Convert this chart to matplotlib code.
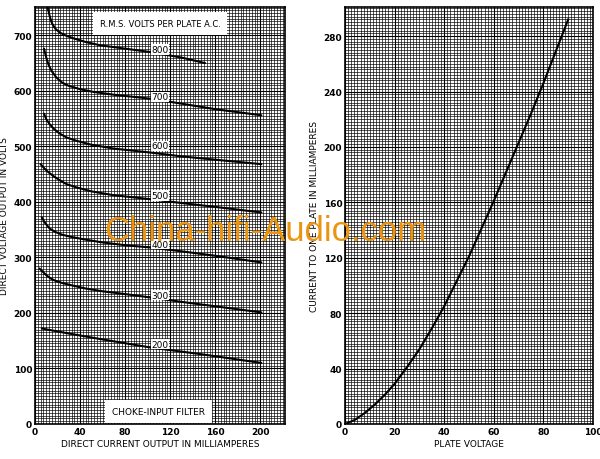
import numpy as np
import matplotlib.pyplot as plt
from matplotlib.ticker import MultipleLocator

# left chart: DC output voltage vs DC current for several RMS plate volts
rms_volts = [800, 700, 600, 500, 400, 300, 200]
curve_ma = [
    [11, 13, 15, 18, 22, 28, 35, 45, 58, 80, 102, 130, 151],
    [8, 10, 12, 15, 19, 24, 30, 40, 52, 70, 102, 130, 160, 201],
    [8, 10, 13, 17, 22, 28, 37, 50, 70, 102, 130, 160, 201],
    [5, 8, 11, 16, 22, 28, 37, 50, 70, 102, 130, 160, 201],
    [6, 9, 13, 18, 24, 32, 45, 60, 80, 102, 130, 160, 201],
    [4, 7, 10, 14, 18, 24, 32, 45, 60, 80, 102, 130, 160, 201],
    [6, 30, 58, 102, 150, 201],
]
curve_volts = [
    [752, 735, 722, 712, 705, 699, 694, 688, 682, 676, 670, 660, 650],
    [676, 660, 647, 635, 624, 615, 609, 603, 598, 593, 586, 577, 567, 556],
    [559, 549, 540, 531, 523, 516, 510, 503, 496, 489, 482, 476, 468],
    [468, 461, 455, 447, 439, 432, 426, 419, 412, 405, 398, 391, 381],
    [372, 362, 352, 346, 341, 337, 332, 327, 322, 318, 311, 303, 291],
    [280, 274, 268, 262, 258, 254, 250, 244, 239, 234, 228, 220, 212, 201],
    [172, 163, 153, 138, 125, 110],
]
label_y = [674, 589, 501, 412, 324, 232, 144]

# right chart: current to one plate vs plate voltage
plate_v = [0, 4, 8, 12, 16, 20, 25, 30, 35, 40, 45, 50, 55, 60, 65, 70, 75, 80, 85, 90]
plate_ma = [0, 3, 8, 14, 21, 29, 41, 54, 69, 85, 103, 121, 141, 161, 182, 203, 224, 246, 269, 292]

fig = plt.figure(figsize=(6, 4.6), dpi=100)
ax1 = fig.add_axes([35/600, 1-425/460, 250/600, 417/460])
ax2 = fig.add_axes([345/600, 1-425/460, 248/600, 417/460])


def graph_paper(ax, xmin, xmaj, ymin, ymaj):
    ax.xaxis.set_minor_locator(MultipleLocator(xmin))
    ax.yaxis.set_minor_locator(MultipleLocator(ymin))
    ax.xaxis.set_major_locator(MultipleLocator(xmaj))
    ax.yaxis.set_major_locator(MultipleLocator(ymaj))
    ax.grid(which="minor", color="black", lw=0.55, alpha=0.85)
    ax.grid(which="major", color="black", lw=0.8)
    ax.tick_params(which="both", length=0, labelsize=6.5, pad=2)
    for lab in ax.get_xticklabels() + ax.get_yticklabels():
        lab.set_fontweight("bold")
    for s in ax.spines.values():
        s.set_linewidth(1.2)
    ax.set_axisbelow(True)


ax1.set_xlim(0, 222)
ax1.set_ylim(0, 751)
graph_paper(ax1, 2.5, 40, 5, 100)
for v, xs, ys, ly in zip(rms_volts, curve_ma, curve_volts, label_y):
    ax1.plot(xs, ys, color="black", lw=1.5, solid_capstyle="round")
    ax1.text(111, ly, str(v), fontsize=6.5, ha="center", va="center",
             bbox=dict(facecolor="white", edgecolor="none", pad=0.6))
ax1.text(111, 722, "R.M.S. VOLTS PER PLATE A.C.", fontsize=6, ha="center", va="center",
         bbox=dict(facecolor="white", edgecolor="none", pad=5))
ax1.text(110, 23, "CHOKE-INPUT FILTER", fontsize=6.5, ha="center", va="center",
         bbox=dict(facecolor="white", edgecolor="none", pad=5))
ax1.set_xlabel("DIRECT CURRENT OUTPUT IN MILLIAMPERES", fontsize=6.5, labelpad=2)
ax1.set_ylabel("DIRECT VOLTAGE OUTPUT IN VOLTS", fontsize=6.5, labelpad=3)

ax2.set_xlim(0, 100)
ax2.set_ylim(0, 301)
graph_paper(ax2, 1.25, 20, 2, 40)
ax2.plot(plate_v, plate_ma, color="black", lw=1.5)
ax2.set_xlabel("PLATE VOLTAGE", fontsize=6.5, labelpad=2)
ax2.set_ylabel("CURRENT TO ONE PLATE IN MILLIAMPERES", fontsize=6.5, labelpad=3)

fig.text(0.442, 0.496, "China-hifi-Audio.com", fontsize=25, color="#ec9410",
         family="Liberation Sans", ha="center", va="center")

fig.savefig("out.png", dpi=100)
